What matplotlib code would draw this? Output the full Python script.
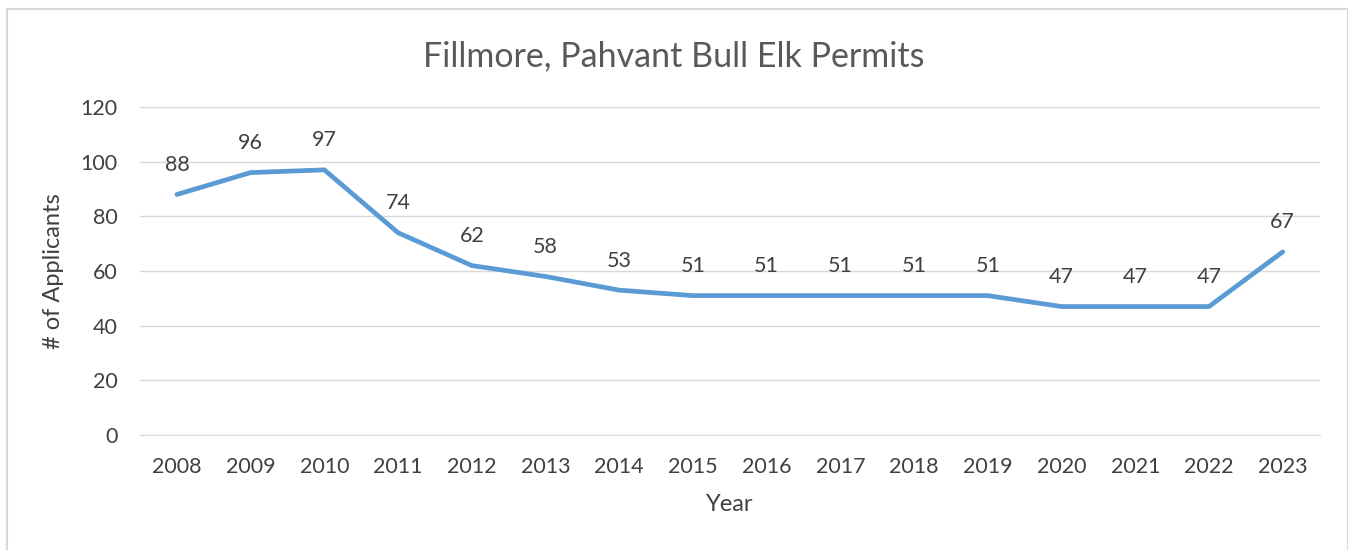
import matplotlib.pyplot as plt
from matplotlib.lines import Line2D

years = ['2008', '2009', '2010', '2011', '2012', '2013', '2014', '2015',
         '2016', '2017', '2018', '2019', '2020', '2021', '2022', '2023']
applicants = [88, 96, 97, 74, 62, 58, 53, 51, 51, 51, 51, 51, 47, 47, 47, 67]

plt.rcParams['font.family'] = ['Lato', 'DejaVu Sans']
text_col = '#404040'

fig = plt.figure(figsize=(13.48, 5.5), dpi=100)
ax = fig.add_axes([0.1039, 0.209, 0.875, 0.5965])

x = list(range(len(years)))
ax.plot(x, applicants, color='#5B9BD5', linewidth=3.4, solid_capstyle='round', zorder=3)
for i, v in enumerate(applicants):
    ax.annotate(str(v), (i, v), xytext=(0, 14), textcoords='offset points',
                ha='center', va='bottom', fontsize=15.5, color=text_col)

ax.set_xlim(-0.5, len(years) - 0.5)
ax.set_ylim(0, 120)
ax.set_yticks(range(0, 121, 20))
ax.set_xticks(x)
ax.set_xticklabels(years)
ax.grid(axis='y', color='#D9D9D9', linewidth=1)
ax.set_axisbelow(True)
for s in ['top', 'right', 'left']:
    ax.spines[s].set_visible(False)
ax.spines['bottom'].set_color('#D9D9D9')
ax.tick_params(length=0, labelsize=15.5, colors=text_col)
ax.tick_params(axis='x', pad=16)
ax.tick_params(axis='y', pad=16)

ax.set_xlabel('Year', fontsize=17, color=text_col, labelpad=12)
ax.set_ylabel('# of Applicants', fontsize=17, color=text_col, labelpad=12)
fig.text(0.5, 0.897, 'Fillmore, Pahvant Bull Elk Permits', ha='center', va='center',
         fontsize=24.5, color='#595959')

# chart frame: left, top, right edges (bottom runs off the picture)
bx0, bx1, by1 = 6.5 / 1348, 1347 / 1348, 1 - 8.5 / 550
fig.add_artist(Line2D([bx0, bx0], [0, by1], transform=fig.transFigure, color='#D9D9D9', lw=1.5))
fig.add_artist(Line2D([bx0, bx1], [by1, by1], transform=fig.transFigure, color='#D9D9D9', lw=1.5))
fig.add_artist(Line2D([bx1, bx1], [0, by1], transform=fig.transFigure, color='#D9D9D9', lw=0.8))

fig.savefig('out.png', dpi=100)
